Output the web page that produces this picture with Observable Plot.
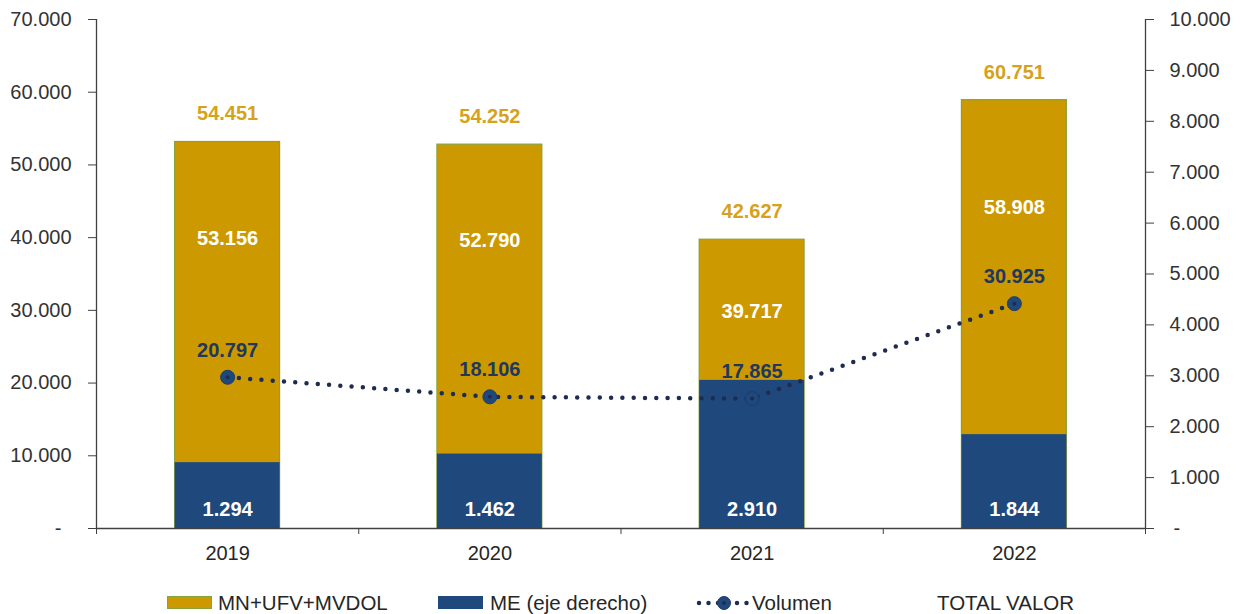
<!DOCTYPE html>
<html>
<head>
<meta charset="utf-8">
<script src="https://cdn.jsdelivr.net/npm/d3@7"></script>
<script src="https://cdn.jsdelivr.net/npm/@observablehq/plot@0.6"></script>
<style>
  html, body { margin: 0; padding: 0; background: #fff; }
  #wrap { width: 1242px; font-family: "Liberation Sans", Arial, sans-serif; }
  #legend { position: relative; height: 34px; font-size: 20.5px; color: #262626; }
  #legend .item { position: absolute; top: 11px; line-height: 24px; white-space: nowrap; }
  #legend .sw { position: absolute; top: 16px; width: 45px; height: 12px; }
</style>
</head>
<body>
<div id="wrap">
  <div id="chart"></div>
  <div id="legend"></div>
</div>
<script>
// ---- Data ----
const years = ["2019", "2020", "2021", "2022"];
const mnUfvMvdol = [53156, 52790, 39717, 58908];   // left axis
const me = [1294, 1462, 2910, 1844];                // right axis (eje derecho)
const volumen = [20797, 18106, 17865, 30925];       // left axis
const totalValor = [54451, 54252, 42627, 60751];
const leftTicks = [0, 10000, 20000, 30000, 40000, 50000, 60000, 70000];
const rightTicks = [0, 1000, 2000, 3000, 4000, 5000, 6000, 7000, 8000, 9000, 10000];
const legendLabels = ["MN+UFV+MVDOL", "ME (eje derecho)", "Volumen", "TOTAL VALOR"];

// ---- Setup ----
const ratio = 70000 / 10000; // left / right
const loc = d3.formatLocale({decimal: ",", thousands: ".", grouping: [3], currency: ["", ""]});
const fmt = loc.format(",d");
const fmtTick = d => d === 0 ? "-\u2002" : fmt(d);
const fmtTickR = d => d === 0 ? "\u2009-" : fmt(d);

const rows = years.map((y, i) => ({
  i, year: y, mn: mnUfvMvdol[i], me: me[i], vol: volumen[i], total: totalValor[i]
}));

const GOLD = "#CC9900", BLUE = "#1F497D", NAVY = "#1E2D4F", AXIS = "#404040";
const W = 1242, H = 580;
const half = 0.2; // half of bar width in category units

const chart = Plot.plot({
  width: W,
  height: H,
  marginLeft: 96,
  marginRight: 97,
  marginTop: 19,
  marginBottom: 52,
  style: {fontFamily: "'Liberation Sans', Arial, sans-serif", fontSize: "20px", color: "#333", background: "#fff"},
  x: {type: "linear", domain: [0, years.length], axis: null},
  y: {domain: [0, 70000], axis: null},
  marks: [
    // bars
    Plot.rectY(rows, {x1: d => d.i + 0.5 - half, x2: d => d.i + 0.5 + half, y1: 0, y2: "mn",
      fill: GOLD, stroke: "#86A23A", strokeWidth: 1.2}),
    Plot.rectY(rows, {x1: d => d.i + 0.5 - half, x2: d => d.i + 0.5 + half, y1: 0, y2: d => d.me * ratio,
      fill: BLUE}),
    // axes
    Plot.ruleY([0], {stroke: AXIS, strokeWidth: 1.3}),
    Plot.ruleX([0, years.length], {stroke: AXIS, strokeWidth: 1.3}),
    Plot.axisY({anchor: "left", ticks: leftTicks, tickFormat: fmtTick, tickSize: 8, tickPadding: 17,
      stroke: AXIS, label: null, fontSize: 20}),
    Plot.axisY({anchor: "right", ticks: rightTicks.map(v => v * ratio), tickFormat: d => fmtTickR(d / ratio),
      tickSize: 8, tickPadding: 16, stroke: AXIS, label: null, fontSize: 20}),
    Plot.axisX({ticks: d3.range(years.length + 1), tickFormat: () => "", tickSize: 6, stroke: AXIS, label: null}),
    Plot.text(rows, {x: d => d.i + 0.5, y: 0, text: "year", dy: 25, fill: "#262626", fontSize: 20}),
    // volumen line
    Plot.line(rows, {x: d => d.i + 0.5, y: "vol", stroke: NAVY, strokeWidth: 4.5,
      strokeDasharray: "0 11.3", strokeLinecap: "round"}),
    Plot.dot(rows, {x: d => d.i + 0.5, y: "vol", r: 7, fill: BLUE, stroke: "#203A66", strokeWidth: 1}),
    Plot.dot(rows, {x: d => d.i + 0.5, y: "vol", r: 2, fill: NAVY}),
    // labels
    Plot.text(rows, {x: d => d.i + 0.5, y: "mn", dy: -28, text: d => fmt(d.total),
      fill: "#D6A21C", fontWeight: "bold", fontSize: 20}),
    Plot.text(rows, {x: d => d.i + 0.5, y: d => d.mn * 0.75, text: d => fmt(d.mn),
      fill: "#fff", fontWeight: "bold", fontSize: 20}),
    Plot.text(rows, {x: d => d.i + 0.5, y: "vol", dy: -27, text: d => fmt(d.vol),
      fill: "#22375C", fontWeight: "bold", fontSize: 20}),
    Plot.text(rows, {x: d => d.i + 0.5, y: 0, dy: -19, text: d => fmt(d.me),
      fill: "#fff", fontWeight: "bold", fontSize: 20})
  ]
});
document.getElementById("chart").appendChild(chart);

// ---- Legend ----
const lg = document.getElementById("legend");
function add(html) { lg.insertAdjacentHTML("beforeend", html); }
add(`<span class="sw" style="left:167px;background:${GOLD};border:1px solid #86A23A;box-sizing:border-box;height:13px"></span>`);
add(`<span class="item" style="left:218px">${legendLabels[0]}</span>`);
add(`<span class="sw" style="left:438px;background:${BLUE};height:13px"></span>`);
add(`<span class="item" style="left:490px">${legendLabels[1]}</span>`);
add(`<svg style="position:absolute;left:694px;top:12px" width="58" height="22">
  <line x1="5" y1="11" x2="55" y2="11" stroke="${NAVY}" stroke-width="4.5" stroke-linecap="round" stroke-dasharray="0 9.5"/>
  <circle cx="30" cy="11" r="6.5" fill="${BLUE}" stroke="#203A66"/>
  <circle cx="30" cy="11" r="2" fill="${NAVY}"/>
</svg>`);
add(`<span class="item" style="left:752px">${legendLabels[2]}</span>`);
add(`<span class="item" style="left:937px">${legendLabels[3]}</span>`);
</script>
</body>
</html>
